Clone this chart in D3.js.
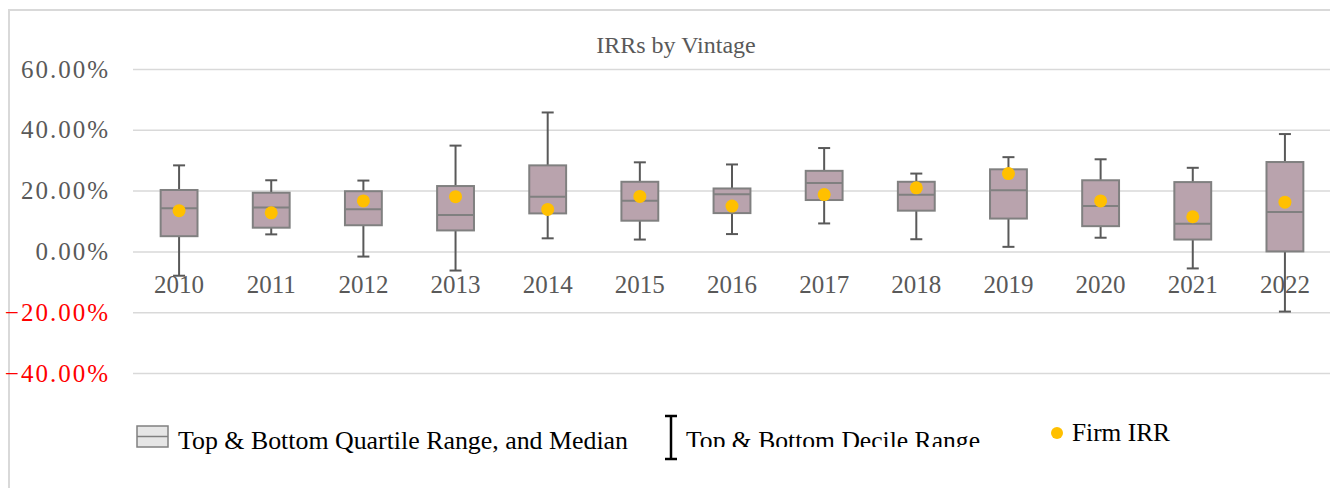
<!DOCTYPE html>
<html>
<head>
<meta charset="utf-8">
<script src="https://cdn.jsdelivr.net/npm/d3@7"></script>
<style>
  body { margin: 0; background: #fff; }
  svg { display: block; }
</style>
</head>
<body>
<svg id="chart" width="1330" height="488"></svg>
<script>
// vintages and the five-number spreads (in %)
const vintages = ['2010','2011','2012','2013','2014','2015','2016','2017','2018','2019','2020','2021','2022'];
const decileLow  = [-8.0, 5.6, -1.7, -6.3, 4.3, 3.9, 5.7, 9.2, 4.0, 1.5, 4.5, -5.6, -19.8];
const quartLow   = [5.0, 7.8, 8.6, 6.9, 12.5, 10.1, 12.6, 16.9, 13.4, 10.8, 8.3, 3.9, 0.0];
const median     = [14.2, 14.4, 13.9, 12.0, 18.0, 16.7, 18.8, 22.5, 18.6, 20.1, 14.9, 9.1, 13.0];
const quartHigh  = [20.2, 19.3, 19.8, 21.5, 28.3, 22.9, 20.7, 26.5, 22.9, 27.0, 23.4, 22.8, 29.4];
const decileHigh = [28.3, 23.4, 23.3, 34.8, 45.7, 29.3, 28.6, 34.0, 25.6, 31.0, 30.3, 27.5, 38.6];
const firmIRR    = [13.4, 12.7, 16.6, 18.0, 13.8, 18.1, 14.9, 18.7, 20.9, 25.6, 16.6, 11.4, 16.2];
const yTicks = [-40, -20, 0, 20, 40, 60];

const data = vintages.map((v, i) => ({
  vintage: v,
  lo: decileLow[i], q1: quartLow[i], med: median[i],
  q3: quartHigh[i], hi: decileHigh[i], firm: firmIRR[i]
}));

const svg = d3.select('#chart');
const serif = '"Liberation Serif", "Times New Roman", serif';

// chart frame
svg.append('rect')
  .attr('x', 9).attr('y', 10)
  .attr('width', 1340).attr('height', 500)
  .attr('fill', 'none')
  .attr('stroke', '#d9d9d9')
  .attr('stroke-width', 2);

const xScale = d3.scaleBand()
  .domain(vintages)
  .range([133, 1331])
  .paddingInner(0.6)
  .paddingOuter(0.3);

const yScale = d3.scaleLinear()
  .domain([-40, 60])
  .range([373, 69]);

// gridlines + y labels
const yAxis = d3.axisLeft(yScale)
  .tickValues(yTicks)
  .tickSize(-(1330 - 133))
  .tickPadding(25)
  .tickFormat(d => d3.format('.2f')(d) + '%');

const yAxisG = svg.append('g')
  .attr('class', 'yAxis')
  .attr('transform', 'translate(133,0)')
  .call(yAxis);

yAxisG.select('.domain').remove();
yAxisG.selectAll('.tick line')
  .attr('stroke', '#d9d9d9')
  .attr('stroke-width', 1.5);
yAxisG.selectAll('.tick text')
  .attr('font-family', serif)
  .attr('font-size', 25)
  .attr('letter-spacing', 2)
  .attr('dx', 2)
  .attr('dy', '0.32em')
  .attr('fill', d => d < 0 ? '#ff0000' : '#595959');

// title
svg.append('text')
  .attr('x', 676).attr('y', 53)
  .attr('text-anchor', 'middle')
  .attr('font-family', serif)
  .attr('font-size', 24)
  .attr('fill', '#595959')
  .text('IRRs by Vintage');

const boxes = svg.append('g').attr('class', 'boxes');
const bw = xScale.bandwidth();
const cx = d => xScale(d.vintage) + bw / 2;

// decile whiskers
boxes.selectAll('.whisker')
  .data(data)
  .enter().append('line')
  .attr('class', 'whisker')
  .attr('x1', cx).attr('x2', cx)
  .attr('y1', d => yScale(d.hi))
  .attr('y2', d => yScale(d.lo))
  .attr('stroke', '#595959')
  .attr('stroke-width', 2);

boxes.selectAll('.capHi')
  .data(data)
  .enter().append('line')
  .attr('x1', d => cx(d) - 6).attr('x2', d => cx(d) + 6)
  .attr('y1', d => yScale(d.hi)).attr('y2', d => yScale(d.hi))
  .attr('stroke', '#595959')
  .attr('stroke-width', 2);

boxes.selectAll('.capLo')
  .data(data)
  .enter().append('line')
  .attr('x1', d => cx(d) - 6).attr('x2', d => cx(d) + 6)
  .attr('y1', d => yScale(d.lo)).attr('y2', d => yScale(d.lo))
  .attr('stroke', '#595959')
  .attr('stroke-width', 2);

// quartile boxes
boxes.selectAll('.box')
  .data(data)
  .enter().append('rect')
  .attr('class', 'box')
  .attr('x', d => xScale(d.vintage))
  .attr('width', bw)
  .attr('y', d => yScale(d.q3))
  .attr('height', d => yScale(d.q1) - yScale(d.q3))
  .attr('fill', '#b9a3ad')
  .attr('stroke', '#808080')
  .attr('stroke-width', 2);

boxes.selectAll('.median')
  .data(data)
  .enter().append('line')
  .attr('x1', d => xScale(d.vintage)).attr('x2', d => xScale(d.vintage) + bw)
  .attr('y1', d => yScale(d.med)).attr('y2', d => yScale(d.med))
  .attr('stroke', '#808080')
  .attr('stroke-width', 2);

// firm IRR dots
boxes.selectAll('.firm')
  .data(data)
  .enter().append('circle')
  .attr('cx', cx)
  .attr('cy', d => yScale(d.firm))
  .attr('r', 6.5)
  .attr('fill', '#ffc000');

// x labels drawn over the whiskers
svg.selectAll('.xlab')
  .data(vintages)
  .enter().append('text')
  .attr('class', 'xlab')
  .attr('x', d => xScale(d) + bw / 2)
  .attr('y', 293)
  .attr('text-anchor', 'middle')
  .attr('font-family', serif)
  .attr('font-size', 25)
  .attr('fill', '#595959')
  .style('paint-order', 'stroke')
  .text(d => d);

// legend
const legend = svg.append('g').attr('class', 'legend');

legend.append('rect')
  .attr('x', 137).attr('y', 426)
  .attr('width', 31).attr('height', 21)
  .attr('fill', '#e6e6e6')
  .attr('stroke', '#808080')
  .attr('stroke-width', 1.5);
legend.append('line')
  .attr('x1', 137).attr('x2', 168)
  .attr('y1', 436.5).attr('y2', 436.5)
  .attr('stroke', '#808080')
  .attr('stroke-width', 1.5);
legend.append('text')
  .attr('x', 178).attr('y', 449)
  .attr('font-family', serif)
  .attr('font-size', 26)
  .attr('fill', '#000')
  .attr('textLength', 450)
  .attr('lengthAdjust', 'spacingAndGlyphs')
  .text('Top & Bottom Quartile Range, and Median');

legend.append('line')
  .attr('x1', 671).attr('x2', 671)
  .attr('y1', 416).attr('y2', 459)
  .attr('stroke', '#000').attr('stroke-width', 2.5);
legend.append('line')
  .attr('x1', 665).attr('x2', 677)
  .attr('y1', 416).attr('y2', 416)
  .attr('stroke', '#000').attr('stroke-width', 2.5);
legend.append('line')
  .attr('x1', 665).attr('x2', 677)
  .attr('y1', 459).attr('y2', 459)
  .attr('stroke', '#000').attr('stroke-width', 2.5);

svg.append('clipPath').attr('id', 'decileClip')
  .append('rect').attr('x', 680).attr('y', 400).attr('width', 320).attr('height', 47);
legend.append('text')
  .attr('x', 686).attr('y', 449)
  .attr('clip-path', 'url(#decileClip)')
  .attr('font-family', serif)
  .attr('font-size', 26)
  .attr('fill', '#000')
  .attr('textLength', 294)
  .attr('lengthAdjust', 'spacingAndGlyphs')
  .text('Top & Bottom Decile Range');

legend.append('circle')
  .attr('cx', 1057).attr('cy', 433)
  .attr('r', 6)
  .attr('fill', '#ffc000');
legend.append('text')
  .attr('x', 1072).attr('y', 441)
  .attr('font-family', serif)
  .attr('font-size', 26)
  .attr('fill', '#000')
  .attr('textLength', 98)
  .attr('lengthAdjust', 'spacingAndGlyphs')
  .text('Firm IRR');
</script>
</body>
</html>
